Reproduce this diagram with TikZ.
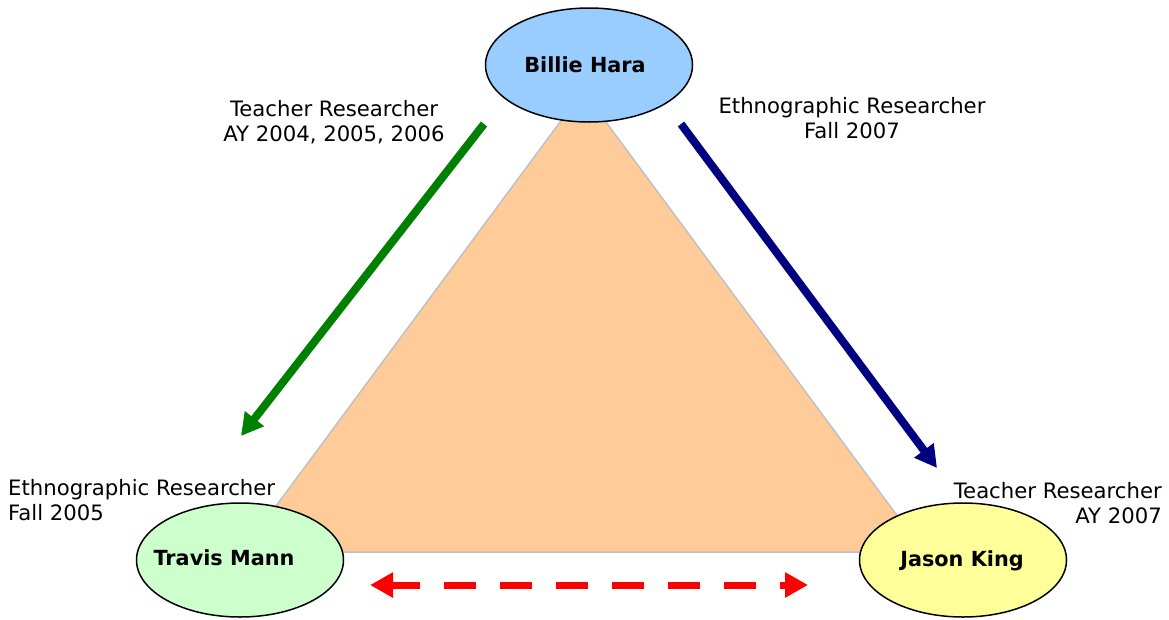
\documentclass[tikz,border=0pt]{standalone}
\usepackage{fontspec}
\setmainfont{DejaVu Sans}
\usetikzlibrary{arrows.meta,shapes.geometric}
\definecolor{peach}{HTML}{FFCC99}
\definecolor{edgegray}{HTML}{C0C0C0}
\definecolor{skyblue}{HTML}{99CCFF}
\definecolor{mint}{HTML}{CCFFCC}
\definecolor{lemon}{HTML}{FFFF99}
\definecolor{leaf}{HTML}{008000}
\definecolor{ink}{HTML}{000080}

\begin{document}
\begin{tikzpicture}[x=1pt,y=-1pt,
  person/.style={draw=black,line width=1.5pt,ellipse,minimum width=207pt,minimum height=114pt,inner sep=0pt},
  who/.style={font=\fontsize{20.8}{25}\selectfont\bfseries,anchor=base,inner sep=0pt},
  role/.style={font=\fontsize{21.2}{25}\selectfont,anchor=base,inner sep=0pt},
  flow/.style={line width=8pt,-{Triangle[length=22pt,width=23pt]}}]
  \useasboundingbox (0,0) rectangle (1169,619);
  \draw[edgegray,line width=1.5pt,fill=peach,line join=round] (583,91) -- (242,552) -- (924,552) -- cycle;
  \node[person,fill=skyblue] (billie) at (589,65) {};
  \node[person,fill=mint] (travis) at (240,560) {};
  \node[person,fill=lemon] (jason) at (963,560) {};
  \node[who] (billie-name) at (585,72) {Billie Hara};
  \node[who] (travis-name) at (224,565) {Travis Mann};
  \node[who] (jason-name) at (962,566) {Jason King};
  \node[role,align=center] (tr-billie) at (334,141) {Teacher Researcher\\AY 2004, 2005, 2006};
  \node[role,align=center] (er-billie) at (852,138) {Ethnographic Researcher\\Fall 2007};
  \node[role,align=left,anchor=base west] (er-travis) at (8,520) {Ethnographic Researcher\\Fall 2005};
  \node[role,align=right,anchor=base east] (tr-jason) at (1162,523) {Teacher Researcher\\AY 2007};
  \coordinate (g0) at (484,124);
  \coordinate (g1) at (241,436);
  \coordinate (n0) at (681,124);
  \coordinate (n1) at (937,468);
  \coordinate (r0) at (370,585);
  \coordinate (r1) at (808,585);
  \draw[flow,leaf] (g0) -- (g1);
  \draw[flow,ink] (n0) -- (n1);
  \draw[red,line width=7pt,dash pattern=on 32pt off 24pt,dash phase=4pt,{Triangle[length=23pt,width=24pt]}-{Triangle[length=23pt,width=24pt]}] (r0) -- (r1);
\end{tikzpicture}
\end{document}
